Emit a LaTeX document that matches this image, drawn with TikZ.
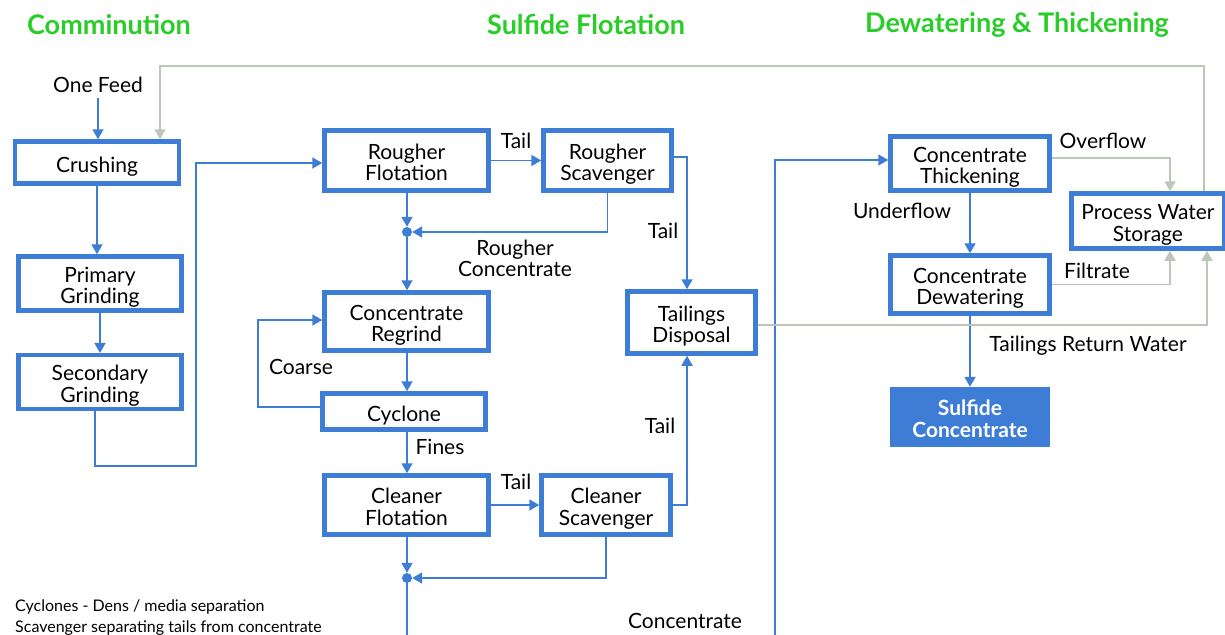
\documentclass[tikz,border=0pt]{standalone}
\usepackage{fontspec}
\setmainfont{Lato}
\usetikzlibrary{arrows.meta}
\definecolor{fblue}{RGB}{62,125,214}
\definecolor{fgreen}{RGB}{40,205,40}
\definecolor{fgray}{RGB}{188,198,186}
\newcommand{\boxtxt}[1]{\raisebox{0pt}[\dimexpr\height+10pt\relax][\depth]{\begin{tabular}{@{}c@{}}#1\end{tabular}}}
\begin{document}
\begin{tikzpicture}[x=1pt,y=-1pt,
  box/.style={draw=fblue, line width=4.5pt, fill=white, align=center, inner sep=0pt,
    font=\fontsize{21}{21}\selectfont},
  endbox/.style={fill=fblue, draw=none, align=center, inner sep=0pt, text=white,
    font=\fontsize{21}{21}\bfseries\selectfont},
  flow/.style={draw=fblue, line width=1.8pt, -{Triangle[length=10pt,width=11pt]}},
  plainflow/.style={draw=fblue, line width=1.8pt},
  water/.style={draw=fgray, line width=1.8pt, -{Triangle[length=10pt,width=11pt]}},
  lbl/.style={font=\fontsize{21}{21}\selectfont, align=center, inner sep=0pt},
  note/.style={font=\fontsize{16}{18}\selectfont, anchor=west, inner sep=0pt},
  ttl/.style={font=\fontsize{27}{30}\bfseries\selectfont, text=fgreen, inner sep=0pt},
  dot/.style={circle, fill=fblue, inner sep=0pt, minimum size=10pt}
]
\useasboundingbox (0,0) rectangle (1225,634);

% titles
\node[ttl] (t1) at (109,25) {Comminution};
\node[ttl] (t2) at (586,25) {Sulfide Flotation};
\node[ttl] (t3) at (1017,25) {Dewatering \& Thickening};

% comminution
\node[lbl] (feed) at (98,85) {One Feed};
\node[box, minimum width=164, minimum height=42] (crush) at (97,162.5) {\boxtxt{Crushing}};
\node[box, minimum width=163, minimum height=54] (prim) at (100,283.5) {\boxtxt{Primary\\Grinding}};
\node[box, minimum width=163, minimum height=53] (sec) at (100,382) {\boxtxt{Secondary\\Grinding}};

% flotation
\node[box, minimum width=164, minimum height=60] (rf) at (406.5,160.5) {\boxtxt{Rougher\\Flotation}};
\node[box, minimum width=128, minimum height=60] (rs) at (607.5,160.5) {\boxtxt{Rougher\\Scavenger}};
\node[box, minimum width=164, minimum height=58] (cr) at (406.5,321.5) {\boxtxt{Concentrate\\Regrind}};
\node[box, minimum width=163, minimum height=36] (cy) at (404,411.5) {\boxtxt{Cyclone}};
\node[box, minimum width=164, minimum height=59] (cf) at (406.5,505) {\boxtxt{Cleaner\\Flotation}};
\node[box, minimum width=129, minimum height=59] (cs) at (606,505) {\boxtxt{Cleaner\\Scavenger}};
\node[box, minimum width=128, minimum height=62] (td) at (691.5,322.5) {\boxtxt{Tailings\\Disposal}};
\node[dot] (d1) at (407,232) {};
\node[dot] (d2) at (407,578) {};

% dewatering
\node[box, minimum width=159, minimum height=54] (ct) at (970,163.5) {\boxtxt{Concentrate\\Thickening}};
\node[box, minimum width=159, minimum height=58] (cd) at (970,284.5) {\boxtxt{Concentrate\\Dewatering}};
\node[box, minimum width=153, minimum height=55] (pw) at (1148,221) {\boxtxt{Process Water\\Storage}};
\node[endbox, minimum width=160, minimum height=60] (sc) at (970,417) {\boxtxt{Sulfide\\Concentrate}};

% free ends
\coordinate (bot1) at (407,640);
\coordinate (bot2) at (775,640);

% labels
\node[lbl] (l1) at (516,141) {Tail};
\node[lbl] (l2) at (663,231) {Tail};
\node[lbl] (l3) at (515,258) {Rougher\\Concentrate};
\node[lbl] (l4) at (301,367) {Coarse};
\node[lbl] (l5) at (440,447) {Fines};
\node[lbl] (l6) at (516,482) {Tail};
\node[lbl] (l7) at (660,426) {Tail};
\node[lbl] (l8) at (685,621) {Concentrate};
\node[lbl] (l9) at (1103,141) {Overflow};
\node[lbl] (l10) at (902,211) {Underflow};
\node[lbl] (l11) at (1097,271) {Filtrate};
\node[lbl] (l12) at (1088,346) {Tailings Return Water};

\node[note] (n1) at (15,607) {Cyclones - Dens / media separation};
\node[note] (n2) at (15,628) {Scavenger separating tails from concentrate};

% blue flows
\draw[flow] (feed.south) ++(0,5) -- (feed.south |- crush.north);
\draw[flow] (crush.south) -- (crush.south |- prim.north);
\draw[flow] (prim.south) -- (prim.south |- sec.north);
\draw[flow] (sec.south -| 95,0) -- (95,466) -- (196,466) -- (196,163) -- (rf.west |- 0,163);
\draw[flow] (rf.east) -- (rs.west);
\draw[flow] (rs.east |- 0,157) -- (687,157) -- (td.north -| 687,0);
\draw[flow] (rf.south -| d1) -- (d1.north);
\draw[flow] (rs.south) -- (rs.south |- d1) -- (d1.east);
\draw[flow] (d1.south) -- (d1 |- cr.north);
\draw[flow] (cr.south -| d1) -- (d1 |- cy.north);
\draw[flow] (cy.west |- 0,407) -- (258,407) -- (258,320) -- (cr.west |- 0,320);
\draw[flow] (cy.south -| d1) -- (d1 |- cf.north);
\draw[flow] (cf.east) -- (cs.west);
\draw[flow] (cs.east) -- (687,505) -- (td.south -| 687,0);
\draw[flow] (cf.south -| d2) -- (d2.north);
\draw[flow] (cs.south) -- (cs.south |- d2) -- (d2.east);
\draw[plainflow] (d2.south) -- (bot1);
\draw[flow] (bot2) -- (775,160) -- (ct.west |- 0,160);
\draw[flow] (ct.south) -- (cd.north);
\draw[flow] (cd.south) -- (sc.north);

% water flows
\draw[water] (ct.east |- 0,158) -- (1170,158) -- (pw.north -| 1170,0);
\draw[water] (cd.east) -- (1170,284.5) -- (pw.south -| 1170,0);
\draw[water] (td.east |- 0,325) -- (1207,325) -- (pw.south -| 1207,0);
\draw[water] (pw.north -| 1204,0) -- (1204,66) -- (160,66) -- (crush.north -| 160,0);
\end{tikzpicture}
\end{document}
